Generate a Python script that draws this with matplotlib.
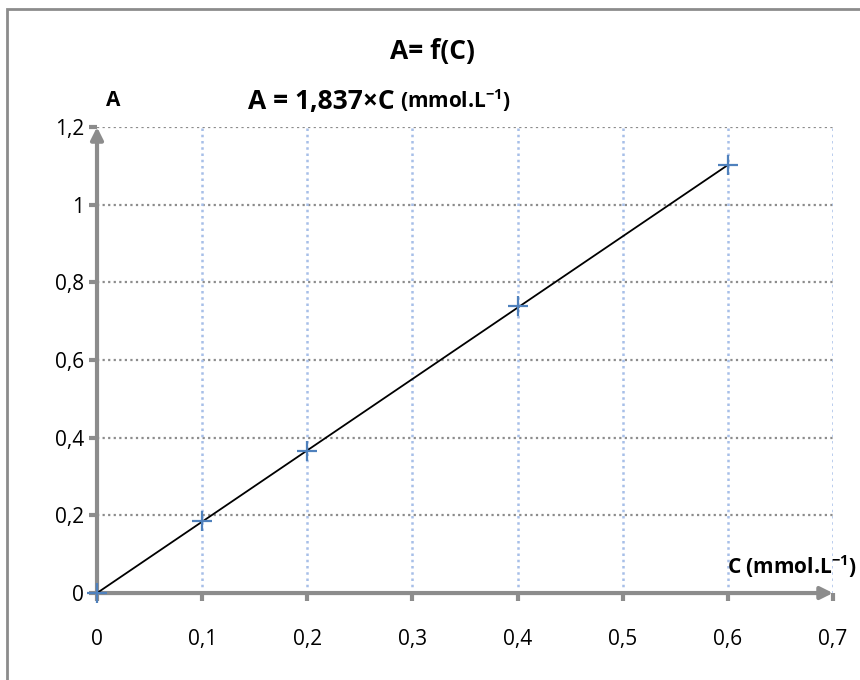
import matplotlib.pyplot as plt
from matplotlib.patches import Rectangle

# donnees
conc = [0, 0.1, 0.2, 0.4, 0.6]
absorb = [0, 0.186, 0.366, 0.738, 1.102]
pente = 1.837
x_ticks = [0, 0.1, 0.2, 0.3, 0.4, 0.5, 0.6, 0.7]
y_ticks = [0, 0.2, 0.4, 0.6, 0.8, 1.0, 1.2]

plt.rcParams['font.family'] = ['Open Sans', 'DejaVu Sans']
plt.rcParams['mathtext.fontset'] = 'custom'
plt.rcParams['mathtext.rm'] = 'Open Sans'
plt.rcParams['mathtext.bf'] = 'Open Sans:bold'

fig = plt.figure(figsize=(8.6, 6.8), dpi=100)
ax = fig.add_axes([0.1128, 0.1279, 0.8558, 0.6853])

# cadre gris autour du graphique
fig.patches.append(Rectangle((7 / 860, -0.05), 1.1, 1 - 9 / 680 + 0.05, transform=fig.transFigure,
                             fill=False, edgecolor='#8c8c8c', linewidth=2))

gris = '#8c8c8c'
ax.set_xlim(0, 0.7)
ax.set_ylim(0, 1.2)
ax.set_xticks(x_ticks)
ax.set_yticks(y_ticks)
ax.set_xticklabels([f"{v:g}".replace('.', ',') for v in x_ticks])
ax.set_yticklabels([f"{v:g}".replace('.', ',') for v in y_ticks])
ax.tick_params(axis='both', colors=gris, width=3, length=6, labelsize=15, labelcolor='black')
ax.tick_params(axis='x', pad=20)

# grille : horizontales grises, verticales bleues
for y in y_ticks[1:]:
    ax.axhline(y, color='#8c8c8c', linestyle=(0, (1, 1.5)), linewidth=1.6, zorder=1)
for x in x_ticks[1:]:
    ax.axvline(x, color='#a7bfe8', linestyle=(0, (1, 1.5)), linewidth=1.8, zorder=1)

for s in ['top', 'right', 'left', 'bottom']:
    ax.spines[s].set_visible(False)

# axes avec fleches
ax.annotate('', xy=(0.7, 0), xytext=(0, 0), xycoords='data',
            arrowprops=dict(arrowstyle='-|>', color=gris, lw=3, mutation_scale=18,
                            shrinkA=0, shrinkB=0), annotation_clip=False)
ax.annotate('', xy=(0, 1.2), xytext=(0, 0), xycoords='data',
            arrowprops=dict(arrowstyle='-|>', color=gris, lw=3, mutation_scale=18,
                            shrinkA=0, shrinkB=0), annotation_clip=False)

# droite de regression
ax.plot([0, conc[-1]], [0, pente * conc[-1]], color='black', linewidth=1.3, zorder=3)
ax.plot(conc, absorb, linestyle='none', marker='+', markersize=14, markeredgewidth=1.6,
        color='#4f81bd', zorder=4, clip_on=False)

fig.text(432 / 860, 1 - 52 / 680, 'A= f(C)', ha='center', va='center', fontsize=19, fontweight='bold')
fig.text(113 / 860, 1 - 100 / 680, 'A', ha='center', va='center', fontsize=15, fontweight='bold')
eq = fig.text(248 / 860, 1 - 101 / 680, 'A = 1,837×C', ha='left', va='center', fontsize=19,
              fontweight='bold')
ax.annotate(r'(mmol.L$^{\mathbf{-1}}$)', xy=(1, 0.5), xytext=(4, 0), xycoords=eq,
            textcoords='offset points', ha='left', va='center', fontsize=15, fontweight='bold')
fig.text(857 / 860, 1 - 567 / 680, r'C (mmol.L$^{\mathbf{-1}}$)', ha='right', va='center', fontsize=15,
         fontweight='bold')

fig.savefig('out.png', dpi=100)
